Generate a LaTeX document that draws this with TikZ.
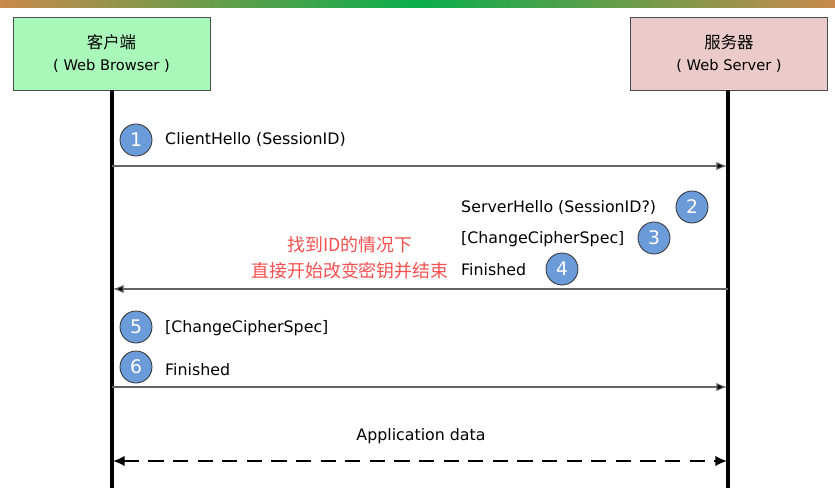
\documentclass[tikz,border=0pt]{standalone}
\usepackage{fontspec}
\setmainfont{DejaVu Sans}
\newfontfamily\cjk{Noto Sans CJK SC}
\usetikzlibrary{arrows.meta,positioning}
\definecolor{barraorange}{HTML}{C98A4B}
\definecolor{barragreen}{HTML}{0AAE4B}
\definecolor{clientfill}{HTML}{AAF7BA}
\definecolor{serverfill}{HTML}{EBCACA}
\definecolor{passofill}{HTML}{6C9BD9}
\definecolor{notared}{HTML}{F5504F}
\tikzset{
  attore/.style={draw=black!70, line width=0.6pt, minimum width=5.91cm, minimum height=2.19cm, align=center, font=\fontsize{12.5}{19}\selectfont},
  vita/.style={line width=2.6pt},
  msg/.style={draw=black!60, line width=0.9pt, -{Latex[length=9pt,width=7pt,fill=black]}},
  passo/.style={circle, draw=black!80, line width=0.7pt, fill=passofill, text=white, minimum size=0.96cm, inner sep=0pt, font=\fontsize{16}{16}\selectfont},
  testo/.style={anchor=west, inner sep=0pt, font=\fontsize{13.5}{14}\selectfont},
  nota/.style={text=notared, align=center, font=\cjk\fontsize{15.3}{22}\selectfont}
}
\begin{document}
\begin{tikzpicture}[>=latex, x=0.03cm, y=-0.03cm]
		\useasboundingbox (0,0) rectangle (835,497);
		%\draw [help lines] (0,0) grid (835,497);
		% Barra superiore
		\shade [left color=barraorange, right color=barraorange, middle color=barragreen] (0,0) rectangle (835,7);
		% Client e server
		\node [attore, fill=clientfill] (client) at (111.5,53.5) {{\cjk\fontsize{14}{19}\selectfont 客户端}\\( Web Browser )};
		\node [attore, fill=serverfill] (server) at (729,53.5) {{\cjk\fontsize{14}{19}\selectfont 服务器}\\( Web Server )};
		\coordinate (cfine) at (112,488);
		\coordinate (sfine) at (728,488);
		\draw [vita] (client.south -| cfine) -- (cfine);
		\draw [vita] (server.south -| sfine) -- (sfine);
		% Messaggio 1
		\coordinate (c1) at (112,166);
		\coordinate (s1) at (727,166);
		\draw [msg] (c1) -- (s1);
		\node [passo] (n1) at (136,140) {1};
		\node [testo] (t1) at (165,140) {ClientHello (SessionID)};
		% Messaggi 2, 3, 4
		\coordinate (s2) at (728,289);
		\coordinate (c2) at (113,289);
		\draw [msg] (s2) -- (c2);
		\node [testo] (t2) at (461,208) {ServerHello (SessionID?)};
		\node [passo] (n2) at (692,207) {2};
		\node [testo] (t3) at (461,239) {[ChangeCipherSpec]};
		\node [passo] (n3) at (654,238) {3};
		\node [testo] (t4) at (461,270) {Finished};
		\node [passo] (n4) at (562,269) {4};
		\node [nota] (nota) at (350,258) {找到ID的情况下\\直接开始改变密钥并结束};
		% Messaggi 5, 6
		\node [passo] (n5) at (136,327) {5};
		\node [testo] (t5) at (165,328) {[ChangeCipherSpec]};
		\node [passo] (n6) at (136,367) {6};
		\node [testo] (t6) at (165,370) {Finished};
		\coordinate (c3) at (112,387);
		\coordinate (s3) at (727,387);
		\draw [msg] (c3) -- (s3);
		% Dati applicativi
		\node (dati) at (421,436) {\fontsize{13.5}{14}\selectfont Application data};
		\coordinate (c4) at (113,461);
		\coordinate (s4) at (727,461);
		\draw [line width=1.6pt, dash pattern=on 13pt off 8pt, {Latex[length=10pt,width=9pt]}-{Latex[length=10pt,width=9pt]}] (c4) -- (s4);
	\end{tikzpicture}
\end{document}
